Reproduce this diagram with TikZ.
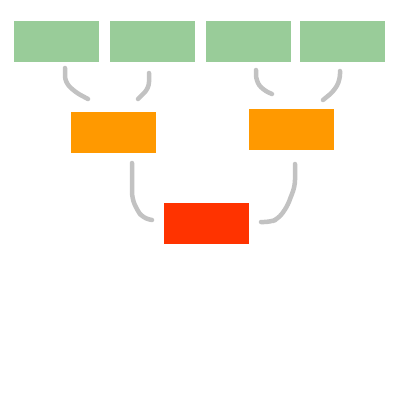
\documentclass[tikz,border=0pt]{standalone}
\definecolor{gbox}{HTML}{99CC99}
\definecolor{obox}{HTML}{FF9900}
\definecolor{rbox}{HTML}{FF3300}
\definecolor{conn}{HTML}{C2C2C2}
\tikzset{
  boxn/.style={rectangle, minimum width=85pt, minimum height=41pt, inner sep=0pt, draw=none},
  link/.style={draw=conn, line width=4.5pt, line cap=round, line join=round, rounded corners=6pt}
}
\begin{document}
\begin{tikzpicture}[x=1pt,y=-1pt]
\useasboundingbox (0,0) rectangle (400,400);
\fill[white] (0,0) rectangle (400,400);
\node[boxn, fill=gbox] (g1) at (56.5,41.5) {};
\node[boxn, fill=gbox] (g2) at (152.5,41.5) {};
\node[boxn, fill=gbox] (g3) at (248.5,41.5) {};
\node[boxn, fill=gbox] (g4) at (342.5,41.5) {};
\node[boxn, fill=obox] (o1) at (113.5,132.5) {};
\node[boxn, fill=obox] (o2) at (291.5,129.5) {};
\node[boxn, fill=rbox] (r1) at (206.5,223.5) {};
\coordinate (a1) at (65,68);  \coordinate (b1) at (88,99);
\coordinate (a2) at (149,73); \coordinate (b2) at (138,99);
\coordinate (a3) at (256,70); \coordinate (b3) at (272,94);
\coordinate (a4) at (340,71); \coordinate (b4) at (323,100);
\coordinate (a5) at (132,163); \coordinate (b5) at (152,220);
\coordinate (a6) at (295,164); \coordinate (b6) at (261,222);
\draw[link] (a1) -- (65,82) -- (75,92) -- (b1);
\draw[link] (a2) -- (149,88) -- (b2);
\draw[link] (a3) -- (256,81) -- (263,90) -- (b3);
\draw[link] (a4) -- (340,80) -- (334,91) -- (b4);
\draw[link] (a5) -- (132,198) -- (137,210) -- (143,218) -- (b5);
\draw[link] (a6) -- (295,186) -- (287,207) -- (278,219) -- (270,222) -- (b6);
\end{tikzpicture}
\end{document}
